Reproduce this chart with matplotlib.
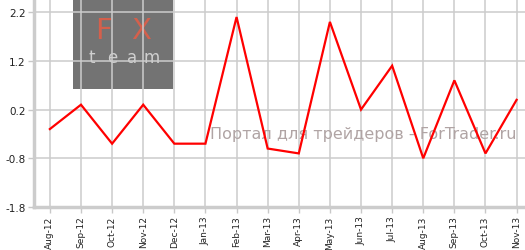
import numpy as np
import matplotlib
matplotlib.use("Agg")
import matplotlib.pyplot as plt
from matplotlib.patches import Rectangle

months = ["Aug-12", "Sep-12", "Oct-12", "Nov-12", "Dec-12", "Jan-13", "Feb-13", "Mar-13",
          "Apr-13", "May-13", "Jun-13", "Jul-13", "Aug-13", "Sep-13", "Oct-13", "Nov-13"]
values = [-0.2, 0.3, -0.5, 0.3, -0.5, -0.5, 2.1, -0.6,
          -0.7, 2.0, 0.2, 1.1, -0.8, 0.8, -0.7, 0.4]
yticks = [-1.8, -0.8, 0.2, 1.2, 2.2]

fig = plt.figure(figsize=(5.25, 2.51), dpi=100)
ax = fig.add_axes([34 / 525, 43 / 251, 491 / 525, 208 / 251])

x = np.arange(len(months))
ax.plot(x, values, color="#ff0000", lw=1.6, zorder=3, solid_joinstyle="miter")

ax.set_xlim(-0.51, 15.27)
ax.set_ylim(-1.8, 2.47)
ax.set_xticks(x)
ax.set_xticklabels(months, rotation=90, fontsize=6.5, color="#222222")
ax.set_yticks(yticks)
ax.set_yticklabels(["%.1f" % v for v in yticks], fontsize=7.5, color="#222222")
ax.tick_params(axis="both", length=4, width=1, color="#c8c8c8", pad=2)
ax.set_axisbelow(True)
ax.grid(True, color="#cccccc", lw=1.1, zorder=1)

for s in ["top", "right"]:
    ax.spines[s].set_visible(False)
for s in ["left", "bottom"]:
    ax.spines[s].set_color("#cccccc")
    ax.spines[s].set_linewidth(2.5)

# watermark box (под сеткой)
ax.add_patch(Rectangle((73 / 525, 161 / 251), 100 / 525, 90 / 251, transform=fig.transFigure,
                       facecolor="#737373", edgecolor="none", zorder=-1))
ax.text(103 / 525, 220 / 251, "F", transform=fig.transFigure, color="#d4604c", fontsize=21,
        ha="center", va="center", zorder=-0.5)
ax.text(141 / 525, 220 / 251, "X", transform=fig.transFigure, color="#d4604c", fontsize=21,
        ha="center", va="center", zorder=-0.5)
for i, ch in enumerate("team"):
    ax.text((92 + i * 20) / 525, 193 / 251, ch, transform=fig.transFigure, color="#cfcfcf",
            fontsize=12, ha="center", va="center", zorder=-0.5)

ax.text(363 / 525, 116 / 251, "Портал для трейдеров - ForTrader.ru", transform=fig.transFigure,
        color="#b0a4a4", fontsize=11.5, ha="center", va="center", zorder=1)

fig.savefig("out.png", dpi=100)
